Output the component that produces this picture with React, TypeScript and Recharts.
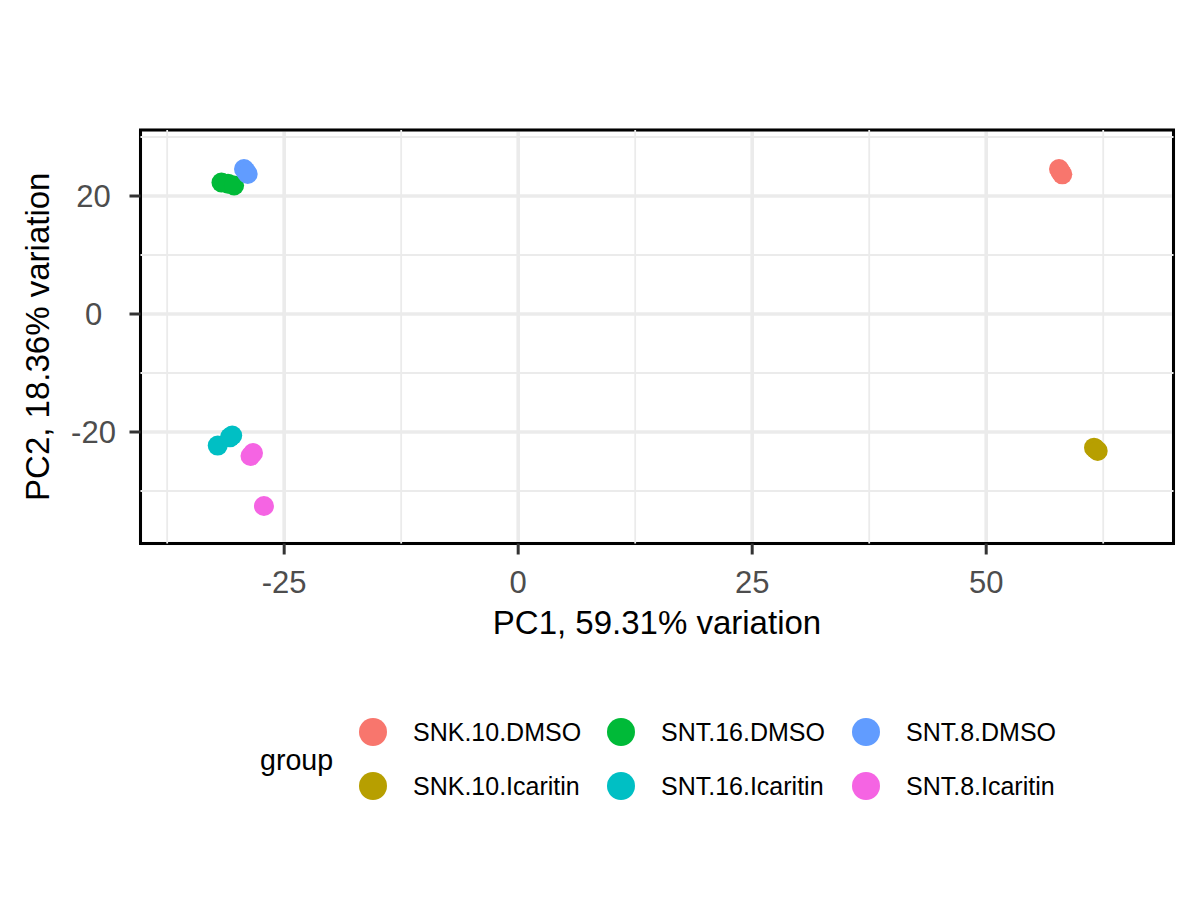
import React from "react";
import {
  ScatterChart,
  Scatter,
  XAxis,
  YAxis,
  CartesianGrid,
  ReferenceLine,
  ReferenceArea,
  Legend,
} from "recharts";

// PCA scores, one list per group
const groups = [
  "SNK.10.DMSO",
  "SNK.10.Icaritin",
  "SNT.16.DMSO",
  "SNT.16.Icaritin",
  "SNT.8.DMSO",
  "SNT.8.Icaritin",
];

const snk10DmsoPC1 = [57.78, 57.95, 58.13];
const snk10DmsoPC2 = [24.58, 24.1, 23.68];
const snk10IcaritinPC1 = [61.52, 61.7, 61.91];
const snk10IcaritinPC2 = [-22.66, -22.9, -23.2];
const snt16DmsoPC1 = [-31.7, -31.0, -30.35];
const snt16DmsoPC2 = [22.3, 22.1, 21.8];
const snt16IcaritinPC1 = [-32.1, -30.8, -30.55];
const snt16IcaritinPC2 = [-22.3, -20.9, -20.6];
const snt8DmsoPC1 = [-29.29, -29.1, -28.9];
const snt8DmsoPC2 = [24.58, 24.2, 23.73];
const snt8IcaritinPC1 = [-28.6, -28.33, -27.16];
const snt8IcaritinPC2 = [-24.07, -23.56, -32.54];

const xTicks = [-25, 0, 25, 50];
const xMinor = [-37.5, -12.5, 12.5, 37.5, 62.5];
const yTicks = [-20, 0, 20];
const yMinor = [-30, -10, 10, 30];

const xDomain: [number, number] = [-40.35, 70.01];
const yDomain: [number, number] = [-38.9, 31.19];

const palette = ["#F8766D", "#B79F00", "#00BA38", "#00BFC4", "#619CFF", "#F564E3"];
const font = '"Liberation Sans", Arial, Helvetica, sans-serif';

const zip = (xs: number[], ys: number[]) => xs.map((x, i) => ({ pc1: x, pc2: ys[i] }));

const series = [
  zip(snk10DmsoPC1, snk10DmsoPC2),
  zip(snk10IcaritinPC1, snk10IcaritinPC2),
  zip(snt16DmsoPC1, snt16DmsoPC2),
  zip(snt16IcaritinPC1, snt16IcaritinPC2),
  zip(snt8DmsoPC1, snt8DmsoPC2),
  zip(snt8IcaritinPC1, snt8IcaritinPC2),
];

const XTitle = (props: any) => {
  const { viewBox } = props;
  return (
    <text
      x={viewBox.x + viewBox.width / 2}
      y={viewBox.y + 90.5}
      textAnchor="middle"
      fontSize={33}
      fontFamily={font}
      fill="#000"
    >
      PC1, 59.31% variation
    </text>
  );
};

const YTitle = (props: any) => {
  const { viewBox } = props;
  const x = viewBox.x + 49;
  const y = viewBox.y + viewBox.height / 2;
  return (
    <text
      x={x}
      y={y}
      transform={`rotate(-90, ${x}, ${y})`}
      textAnchor="middle"
      fontSize={33}
      fontFamily={font}
      fill="#000"
    >
      PC2, 18.36% variation
    </text>
  );
};

// legend laid out as in ggplot: title on the left, 2 rows x 3 columns
const colLeft = [373, 621, 866];
const rowTop = [32, 86];

const renderLegend = () => (
  <div style={{ position: "relative", width: 1200, height: 120, fontFamily: font }}>
    <div
      style={{
        position: "absolute",
        left: 260,
        top: 60,
        transform: "translateY(-50%)",
        fontSize: 28.6,
        color: "#000",
        lineHeight: 1,
      }}
    >
      group
    </div>
    {groups.map((g, i) => {
      const col = Math.floor(i / 2);
      const row = i % 2;
      return (
        <div
          key={g}
          style={{
            position: "absolute",
            left: colLeft[col] - 14,
            top: rowTop[row] - 14,
            height: 28,
            display: "flex",
            alignItems: "center",
            whiteSpace: "nowrap",
          }}
        >
          <span
            style={{
              width: 28,
              height: 28,
              borderRadius: 14,
              background: palette[i],
              display: "inline-block",
            }}
          />
          <span style={{ marginLeft: 26, fontSize: 25, color: "#000", lineHeight: 1 }}>{g}</span>
        </div>
      );
    })}
  </div>
);

export default function App() {
  return (
    <div style={{ position: "absolute", left: 0, top: 0, width: 1200, height: 900, background: "#fff" }}>
      <ScatterChart width={1200} height={900} margin={{ top: 130, right: 26.5, left: 0, bottom: 80 }}>
        <CartesianGrid stroke="#EBEBEB" strokeWidth={3.6} />
        {xMinor.map((v) => (
          <ReferenceLine key={`xm${v}`} x={v} stroke="#EBEBEB" strokeWidth={1.8} />
        ))}
        {yMinor.map((v) => (
          <ReferenceLine key={`ym${v}`} y={v} stroke="#EBEBEB" strokeWidth={1.8} />
        ))}
        <XAxis
          type="number"
          dataKey="pc1"
          domain={xDomain}
          ticks={xTicks}
          interval={0}
          allowDataOverflow
          axisLine={false}
          tickLine={{ stroke: "#333333", strokeWidth: 3 }}
          tickSize={11}
          tickMargin={16}
          tick={{ fill: "#4D4D4D", fontSize: 31, fontFamily: font }}
          height={156.5}
          label={{ content: XTitle }}
        />
        <YAxis
          type="number"
          dataKey="pc2"
          domain={yDomain}
          ticks={yTicks}
          interval={0}
          allowDataOverflow
          axisLine={false}
          tickLine={{ stroke: "#333333", strokeWidth: 3 }}
          tickSize={11}
          tickMargin={36}
          tick={{ fill: "#4D4D4D", fontSize: 31, fontFamily: font, textAnchor: "middle" }}
          width={140.5}
          label={{ content: YTitle }}
        />
        {series.map((data, i) => (
          <Scatter
            key={groups[i]}
            name={groups[i]}
            data={data}
            fill={palette[i]}
            isAnimationActive={false}
            shape={(p: any) => <circle cx={p.cx} cy={p.cy} r={10} fill={palette[i]} />}
          />
        ))}
        <ReferenceArea
          x1={xDomain[0]}
          x2={xDomain[1]}
          y1={yDomain[0]}
          y2={yDomain[1]}
          fill="none"
          fillOpacity={0}
          stroke="#000"
          strokeWidth={3}
          ifOverflow="visible"
        />
        <Legend
          verticalAlign="bottom"
          align="left"
          content={renderLegend}
          wrapperStyle={{ left: 0, width: 1200, height: 120 }}
        />
      </ScatterChart>
    </div>
  );
}
